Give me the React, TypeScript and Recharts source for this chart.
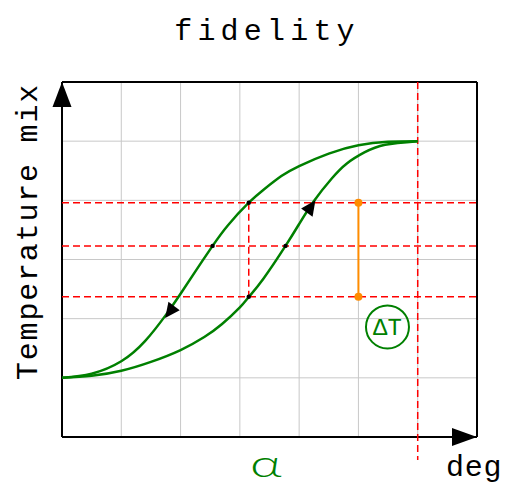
import React from "react";
import {
  ComposedChart,
  Line,
  XAxis,
  YAxis,
  ReferenceLine,
  ReferenceDot,
} from "recharts";

// descending branch (upper curve, arrow points down-left)
const descX = [0, 0.5, 1, 1.4, 1.75, 2, 2.25, 2.54, 2.8, 3.15, 3.4, 3.7, 4, 4.5, 5, 5.5, 6];
const descY = [1, 1.07, 1.28, 1.62, 2.06, 2.42, 2.8, 3.23, 3.58, 3.96, 4.18, 4.41, 4.58, 4.79, 4.93, 4.99, 5];

// ascending branch (lower curve, arrow points up-right)
const ascX = [0, 0.5, 1, 1.5, 2, 2.4, 2.7, 3, 3.15, 3.4, 3.77, 4, 4.25, 4.55, 4.8, 5.1, 5.45, 6];
const ascY = [1, 1.035, 1.12, 1.27, 1.47, 1.69, 1.91, 2.19, 2.365, 2.68, 3.23, 3.6, 3.99, 4.37, 4.62, 4.81, 4.94, 5];

const xTicks = [0, 1, 2, 3, 4, 5, 6, 7];
const yTicks = [0, 1, 2, 3, 4, 5, 6];

// red dashed guide levels
const levelHigh = 3.96;
const levelMid = 3.23;
const levelLow = 2.37;
const guideX = 3.15;
const limitX = 6;
const deltaX = 5;

// points marked where guides cross the curves
const crossX = [3.15, 2.54, 3.15, 3.77];
const crossY = [3.96, 3.23, 2.37, 3.23];

const descData = descX.map((x, i) => ({ x, y: descY[i] }));
const ascData = ascX.map((x, i) => ({ x, y: ascY[i] }));

const GREEN = "#008000";
const RED = "#ff0000";
const ORANGE = "#ff8c00";
const GRID = "#c8c8c8";
const FONT = "'Liberation Mono', monospace";

function arrowHead(angle: number, len = 15, half = 7) {
  return (props: any) => {
    const { cx, cy } = props;
    return (
      <polygon
        points={`0,0 ${-len},${-half} ${-len},${half}`}
        fill="#000"
        transform={`translate(${cx},${cy}) rotate(${angle})`}
      />
    );
  };
}

export default function App() {
  return (
    <div style={{ position: "absolute", left: 0, top: 0 }}>
      <ComposedChart
        width={506}
        height={490}
        margin={{ top: 82, right: 29, bottom: 53, left: 62 }}
      >
        <XAxis
          type="number"
          dataKey="x"
          domain={[0, 7]}
          ticks={xTicks}
          tick={false}
          tickLine={false}
          height={0}
          axisLine={false}
          allowDataOverflow
        />
        <YAxis
          type="number"
          dataKey="y"
          domain={[0, 6]}
          ticks={yTicks}
          tick={false}
          tickLine={false}
          width={0}
          axisLine={false}
          allowDataOverflow
        />

        {xTicks.map((t) => (
          <ReferenceLine key={`gx${t}`} x={t} stroke={GRID} strokeWidth={1} />
        ))}
        {yTicks.map((t) => (
          <ReferenceLine key={`gy${t}`} y={t} stroke={GRID} strokeWidth={1} />
        ))}

        <ReferenceLine x={0} stroke="#000" strokeWidth={2} />
        <ReferenceLine y={0} stroke="#000" strokeWidth={2} />
        <ReferenceLine y={6} stroke="#000" strokeWidth={2} />
        <ReferenceLine x={7} stroke="#000" strokeWidth={2} />

        <ReferenceLine y={levelHigh} stroke={RED} strokeWidth={1.5} strokeDasharray="7 4" />
        <ReferenceLine y={levelMid} stroke={RED} strokeWidth={1.5} strokeDasharray="7 4" />
        <ReferenceLine y={levelLow} stroke={RED} strokeWidth={1.5} strokeDasharray="7 4" />
        <ReferenceLine
          segment={[{ x: guideX, y: levelHigh }, { x: guideX, y: levelLow }]}
          stroke={RED}
          strokeWidth={1.5}
          strokeDasharray="7 4"
        />
        <ReferenceLine
          segment={[{ x: limitX, y: 6 }, { x: limitX, y: -0.39 }]}
          ifOverflow="visible"
          stroke={RED}
          strokeWidth={1.5}
          strokeDasharray="7 4"
        />

        <Line
          data={descData}
          dataKey="y"
          type="natural"
          stroke={GREEN}
          strokeWidth={2.5}
          dot={false}
          isAnimationActive={false}
        />
        <Line
          data={ascData}
          dataKey="y"
          type="natural"
          stroke={GREEN}
          strokeWidth={2.5}
          dot={false}
          isAnimationActive={false}
        />

        <ReferenceLine
          segment={[{ x: deltaX, y: levelHigh }, { x: deltaX, y: levelLow }]}
          stroke={ORANGE}
          strokeWidth={2}
        />
        <ReferenceDot x={deltaX} y={levelHigh} r={4} fill={ORANGE} stroke="none" />
        <ReferenceDot x={deltaX} y={levelLow} r={4} fill={ORANGE} stroke="none" />

        {crossX.map((x, i) => (
          <ReferenceDot key={i} x={x} y={crossY[i]} r={2.2} fill="#000" stroke="none" />
        ))}

        <ReferenceDot x={1.74} y={2.01} r={1} shape={arrowHead(126.5)} />
        <ReferenceDot x={4.275} y={4.0} r={1} shape={arrowHead(-55)} />

        <ReferenceDot x={0} y={6} r={1} shape={arrowHead(-90, 25, 9.5)} ifOverflow="visible" />
        <ReferenceDot x={7} y={0} r={1} shape={arrowHead(0, 25, 9)} ifOverflow="visible" />

        <ReferenceDot
          x={5.49}
          y={1.86}
          r={21.5}
          fill="none"
          stroke={GREEN}
          strokeWidth={2}
          label={{
            value: "ΔT",
            position: "center",
            fill: GREEN,
            fontSize: 24,
            fontFamily: FONT,
          }}
        />

        <text x={267} y={40} textAnchor="middle" fontFamily={FONT} fontSize={30} letterSpacing={5.2} fill="#000">
          fidelity
        </text>
        <text
          transform="translate(37,231.5) rotate(-90)"
          textAnchor="middle"
          fontFamily={FONT}
          fontSize={30}
          letterSpacing={1.8}
          fill="#000"
        >
          Temperature mix
        </text>
        <text
          transform="translate(266,477) scale(1.45,1)"
          textAnchor="middle"
          fontFamily="Lato, sans-serif"
          fontWeight={300}
          fontSize={38}
          fill={GREEN}
        >
          α
        </text>
        <text x={446} y={476} textAnchor="start" fontFamily={FONT} fontSize={30} letterSpacing={0.8} fill="#000">
          deg
        </text>
      </ComposedChart>
    </div>
  );
}
